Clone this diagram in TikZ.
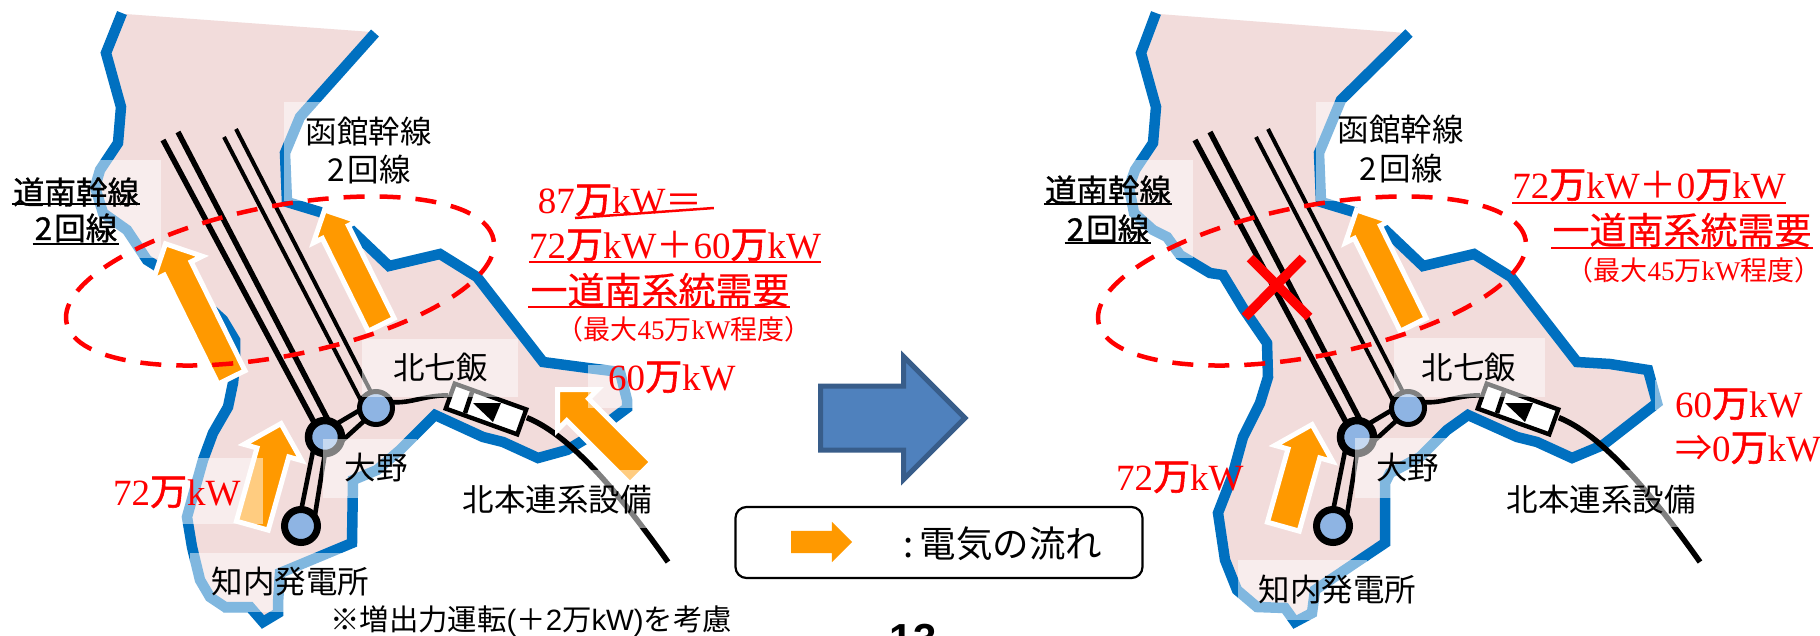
\documentclass[tikz,border=0pt]{standalone}
\usepackage{fontspec}
\usetikzlibrary{shapes.geometric,shapes.arrows}
\setmainfont{Liberation Serif}
\setsansfont{Liberation Sans}
\newfontfamily\jp{Noto Sans CJK JP}
\newfontfamily\jpm[FakeBold=1]{Noto Sans CJK JP}
\newfontfamily\jpr[FakeBold=0.5]{Noto Sans CJK JP}
\newfontfamily\jpk[FakeBold=1.6]{Noto Sans CJK JP}
\newcommand\szz[1]{\fontsize{#1}{#1}\selectfont}
\newcommand\Man{{\jpk 万}}
\definecolor{landpink}{HTML}{F2DCDB}
\definecolor{coast}{HTML}{0070C0}
\definecolor{flow}{HTML}{FF9900}
\definecolor{subfill}{HTML}{8EB4E3}
\definecolor{bigfill}{HTML}{4F81BD}
\definecolor{bigline}{HTML}{385D8A}
\tikzset{
  land/.style={fill=landpink,draw=none},
  shore/.style={draw=coast,line width=10.5pt,line join=miter,miter limit=4},
  veil/.style={fill=white,opacity=0.5},
  heavy/.style={draw=black,line width=5.5pt},
  light/.style={draw=black,line width=4pt},
  tie/.style={draw=black,line width=4.6pt},
  sub/.style={circle,draw=black,fill=subfill,minimum size=33pt,inner sep=0pt,line width=7pt,outer sep=0pt},
  flowarrow/.style={single arrow,anchor=tip,fill=flow,draw=white,line width=5pt,outer sep=0pt,inner xsep=0pt,miter limit=10},
  seam/.style={draw=red,line width=4.5pt,dash pattern=on 21pt off 15pt,ellipse,minimum width=435pt,minimum height=150pt,rotate=11,inner sep=0pt},
  conv/.style={rectangle,draw=black,fill=white,line width=4.4pt,rotate=-19.8,minimum width=76pt,minimum height=26.5pt,inner sep=0pt},
  blk/.style={inner sep=0pt,text=black,font=\jp\szz{31.5}},
  blkb/.style={inner sep=0pt,text=black,font=\jpm\szz{31.5}},
  rd/.style={inner sep=0pt,text=red,font=\szz{37}},
  rds/.style={inner sep=0pt,text=red,font=\szz{27}},
  ulb/.style={draw=black,line width=2.2pt},
  ulr/.style={draw=red,line width=2.5pt},
  ulrt/.style={draw=red,line width=1.6pt},
}
\newcommand\network[1]{%
  \node[sub,line width=7.5pt] (#1ono) at (325,437) {};
  \node[sub,line width=5pt] (#1kita) at (376,408) {};
  \node[sub] (#1shiri) at (301,526) {};
  \coordinate (#1da) at (163,140);
  \coordinate (#1db) at (178,132);
  \coordinate (#1ha) at (224,137);
  \coordinate (#1hb) at (236,129);
  \draw[heavy] (#1da) -- ([shift={(-9.5,-12)}]#1ono.center);
  \draw[heavy] (#1db) -- ([shift={(3,-17)}]#1ono.center);
  \draw[light] (#1ha) -- ([shift={(-15.4,-8)}]#1kita.center);
  \draw[light] (#1hb) -- ([shift={(-4.5,-15)}]#1kita.center);
  \draw[tie] ([shift={(-12,14)}]#1ono.center) -- ([shift={(0,-15)}]#1shiri.center);
  \draw[tie] ([shift={(0,16)}]#1ono.center) -- ([shift={(14,-11)}]#1shiri.center);
  \draw[tie] ([shift={(13,-14)}]#1ono.center) -- ([shift={(-16,2)}]#1kita.center);
  \draw[tie] ([shift={(17,4)}]#1ono.center) -- ([shift={(-12,13)}]#1kita.center);
  \node[conv] (#1conv) at (486,409) {};
  \draw[tie] ([shift={(15,-6)}]#1kita.center) .. controls (410,404) and (425,395) .. (#1conv.west);
  \coordinate (#1end) at (668,562);
  \draw[heavy] ([shift={(3,-5)}]#1conv.east) .. controls (565,433) and (610,480) .. (#1end);
  \draw[tie] (472,392) -- (465,413);
  \fill[black] (473,403) -- (501,403) -- (493,422) -- cycle;
}
\begin{document}
\begin{tikzpicture}[x=1pt,y=-1pt]
\useasboundingbox (0,0) rectangle (1820,635);
\clip (0,0) rectangle (1820,635);
\fill[white] (0,0) rectangle (1820,635);

%%% LEFT MAP
\fill[land] (125,14) -- (106,53) -- (121,107) -- (118,143) -- (100,170) -- (95,187) -- (103,213) -- (127,230) -- (147,260) -- (155,265) -- (223,320) -- (235,340) -- (235,363) -- (233,383) -- (228,407) -- (213,433) -- (203,460) -- (187,517) -- (192,547) -- (200,580) -- (210,597) -- (225,607) -- (250,607) -- (263,622) -- (278,613) -- (278,603) -- (280,573) -- (352,543) -- (353,480) -- (377,470) -- (400,450) -- (417,433) -- (435,415) -- (483,437) -- (503,442) -- (538,458) -- (567,450) -- (587,438) -- (627,408) -- (627,400) -- (620,372) -- (588,368) -- (543,362) -- (477,277) -- (440,254) -- (389,266) -- (348,227) -- (320,212) -- (287,202) -- (285,153) -- (300,117) -- (372,32) -- cycle;
\draw[shore] (122,13) -- (106,53) -- (121,107) -- (118,143) -- (100,170) -- (95,187) -- (103,213) -- (127,230) -- (147,260) -- (155,265) -- (190,290) -- (223,320) -- (235,340) -- (235,363) -- (233,383) -- (228,407) -- (213,433) -- (203,460) -- (187,517) -- (192,547) -- (200,580) -- (210,597) -- (225,607) -- (250,607) -- (263,622) -- (278,613) -- (278,603) -- (280,573) -- (352,543) -- (353,480) -- (377,470) -- (400,450) -- (417,433) -- (435,415) -- (483,437) -- (503,442) -- (538,458) -- (567,450) -- (587,438) -- (627,408) -- (627,400) -- (620,372) -- (588,368) -- (543,362) -- (477,277) -- (440,254) -- (389,266) -- (348,227) -- (320,212) -- (287,202) -- (285,153) -- (300,117) -- (375,33);
\network{l}
\node[flowarrow,rotate=116.3,minimum height=149pt,inner ysep=12.5pt,single arrow head extend=12.5pt] (la1) at (165.5,243.8) {};
\node[flowarrow,rotate=116.3,minimum height=128pt,inner ysep=12pt,single arrow head extend=10pt] (la2) at (324.5,210) {};
\node[flowarrow,rotate=74.3,minimum height=106pt,inner ysep=14pt,single arrow head extend=13.5pt] (la3) at (281,423.6) {};
\node[flowarrow,rotate=135,minimum height=118pt,inner ysep=13pt,single arrow head extend=13pt] (la4) at (557.5,389.5) {};
% label veils
\fill[veil] (10,160) rectangle (161,258);
\fill[veil] (284,102) rectangle (440,201);
\fill[veil] (362,339) rectangle (518,397);
\fill[veil] (323,439) rectangle (417,498);
\fill[veil] (110,458) rectangle (263,524);
\fill[veil] (190,553) rectangle (360,612);
\fill[veil] (588,365) rectangle (740,408);
\fill[veil] (455,470) rectangle (650,528);
\node[seam] (lseam) at (280,281) {};

%%% RIGHT MAP
\fill[land] (1159,14) -- (1141,53) -- (1156,107) -- (1153,143) -- (1135,170) -- (1129,187) -- (1134,213) -- (1153,230) -- (1167,237) -- (1180,255) -- (1210,273) -- (1223,275) -- (1243,308) -- (1267,343) -- (1268,377) -- (1260,403) -- (1243,437) -- (1232,477) -- (1218,513) -- (1225,560) -- (1237,590) -- (1257,607) -- (1285,608) -- (1295,622) -- (1312,613) -- (1315,590) -- (1385,543) -- (1385,483) -- (1390,473) -- (1420,457) -- (1447,430) -- (1468,415) -- (1517,437) -- (1537,442) -- (1572,458) -- (1603,445) -- (1657,403) -- (1648,370) -- (1610,364) -- (1577,362) -- (1511,277) -- (1474,254) -- (1423,266) -- (1382,227) -- (1354,212) -- (1321,202) -- (1319,153) -- (1341,100) -- (1406,33) -- cycle;
\draw[shore] (1156,13) -- (1141,53) -- (1156,107) -- (1153,143) -- (1135,170) -- (1129,187) -- (1134,213) -- (1153,230) -- (1167,237) -- (1180,255) -- (1210,273) -- (1223,275) -- (1243,308) -- (1267,343) -- (1268,377) -- (1260,403) -- (1243,437) -- (1232,477) -- (1218,513) -- (1225,560) -- (1237,590) -- (1257,607) -- (1285,608) -- (1295,622) -- (1312,613) -- (1315,590) -- (1385,543) -- (1385,483) -- (1390,473) -- (1420,457) -- (1447,430) -- (1468,415) -- (1517,437) -- (1537,442) -- (1572,458) -- (1603,445) -- (1657,403) -- (1648,370) -- (1610,364) -- (1577,362) -- (1511,277) -- (1474,254) -- (1423,266) -- (1382,227) -- (1354,212) -- (1321,202) -- (1319,153) -- (1341,100) -- (1409,33);
\begin{scope}[shift={(1032,0)}]
\network{r}
\end{scope}
\node[flowarrow,rotate=116.3,minimum height=128pt,inner ysep=12pt,single arrow head extend=10pt] (ra2) at (1356.5,210) {};
\node[flowarrow,rotate=74.3,minimum height=106pt,inner ysep=14pt,single arrow head extend=13.5pt] (ra3) at (1312,424.6) {};
\fill[veil] (1040,160) rectangle (1193,258);
\fill[veil] (1316,102) rectangle (1470,201);
\fill[veil] (1394,338) rectangle (1545,397);
\fill[veil] (1355,438) rectangle (1448,498);
\fill[veil] (1238,560) rectangle (1367,620);
\fill[veil] (1655,380) rectangle (1810,410);
\fill[veil] (1500,470) rectangle (1700,527);
\node[seam] (rseam) at (1312,281) {};
\draw[red,line width=9.5pt] (1250,258) -- (1309,317);
\draw[red,line width=9.5pt] (1303,258) -- (1245,317);

%%% CENTRE
\node[single arrow,anchor=tip,fill=bigfill,draw=bigline,line width=5pt,outer sep=0pt,inner xsep=0pt,inner ysep=29.5pt,miter limit=10,minimum height=144.5pt,single arrow head extend=29.5pt] (big) at (965,418) {};
\node[draw=black,line width=2.2pt,rounded corners=11pt,fill=white,minimum width=407pt,minimum height=71pt,inner sep=0pt] (legend) at (939,542.5) {};
\node[single arrow,anchor=tip,fill=flow,draw=none,outer sep=0pt,inner xsep=0pt,inner ysep=11pt,minimum height=61pt,single arrow head extend=9pt] (legarrow) at (852,542) {};
\node[inner sep=0pt,font=\jp\szz{36.5},anchor=base west] (legtext) at (903,557) {:};
\node[inner sep=0pt,font=\jp\szz{36.5},anchor=center] (legtext2) at (1011,544) {電気の流れ};

%%% LEFT TEXT
\node[blk] (lhako1) at (368.5,132) {函館幹線};
\node[blk] (lhako2) at (369,170) {2\hspace{3pt}回線};
\node[blkb] (ldou1) at (76,192) {道南幹線};
\node[blkb] (ldou2) at (76,228) {2\hspace{2pt}回線};
\draw[ulb] ([shift={(-1,12)}]ldou1.base west |- 0,192) -- ([shift={(1,12)}]ldou1.base east |- 0,192);
\draw[ulb] ([shift={(-2,16)}]ldou2.base west |- 0,228) -- ([shift={(2,16)}]ldou2.base east |- 0,228);
\node[blk] (lkita) at (440.5,368) {北七飯};
\node[blk] (lono) at (376,468) {大野};
\node[blk] (lshiri) at (290.5,582) {知内発電所};
\node[blk] (lhon) at (557,500) {北本連系設備};
\node[rd,anchor=base east] (lr1a) at (575,213) {87};
\node[rd,anchor=base west] (lr1b) at (575,213) {\Man kW{\jp ＝}};
\draw[ulr] ([yshift=-5pt]lr1b.base west) -- ([shift={(11,-5)}]lr1b.base east |- lr1b.base west);
\node[rd,anchor=base] (lr2) at (675,258) {72\Man kW{\jp ＋}60\Man kW};
\draw[ulr] ([yshift=-4pt]lr2.base west) -- ([yshift=-4pt]lr2.base east);
\node[rd,anchor=center,font=\jpr\szz{37}] (lr3) at (660,290) {一道南系統需要};
\draw[ulrt] (528,307) -- (790,307);
\node[rds] (lr4) at (684,329) {{\jp （最大}45{\jp 万}kW{\jp 程度）}};
\node[rd,anchor=base west] (lr5) at (608,390) {60\Man kW};
\node[rd,anchor=base west] (lr6) at (113,505) {72\Man kW};
\node[inner sep=0pt,anchor=west,font=\jp\szz{29.4}] (note) at (330,621) {※増出力運転\sffamily(\jp ＋\sffamily 2\jp 万\sffamily kW)\jp を考慮};
\node[inner sep=0pt,anchor=base,font=\sffamily\bfseries\szz{42}] (page) at (913,653) {13};

%%% RIGHT TEXT
\node[blk] (rhako1) at (1400.5,130) {函館幹線};
\node[blk] (rhako2) at (1401,169) {2\hspace{3pt}回線};
\node[blkb] (rdou1) at (1108,190) {道南幹線};
\node[blkb] (rdou2) at (1108,229) {2\hspace{2pt}回線};
\draw[ulb] ([shift={(-1,14)}]rdou1.base west |- 0,190) -- ([shift={(1,14)}]rdou1.base east |- 0,190);
\draw[ulb] ([shift={(-2,14)}]rdou2.base west |- 0,229) -- ([shift={(2,14)}]rdou2.base east |- 0,229);
\node[blk] (rkita) at (1469,368) {北七飯};
\node[blk] (rono) at (1407.5,468) {大野};
\node[blk] (rshiri) at (1337.5,590) {知内発電所};
\node[blk] (rhon) at (1601,500) {北本連系設備};
\node[rd,anchor=base] (rr1) at (1649,198) {72\Man kW{\jp ＋}0\Man kW};
\draw[ulr] ([yshift=-5pt]rr1.base west) -- ([yshift=-5pt]rr1.base east);
\node[rd,anchor=center,font=\jpr\szz{37}] (rr2) at (1682,230) {一道南系統需要};
\draw[ulr] (1551,248) -- (1813,248);
\node[rds] (rr3) at (1694,270) {{\jp （最大}45{\jp 万}kW{\jp 程度）}};
\node[rd,anchor=base west] (rr4) at (1675,417) {60\Man kW};
\node[rd,anchor=base west] (rr5) at (1675,461) {{\jp ⇒}0\Man kW};
\node[rd,anchor=base west] (rr6) at (1116,490) {72\Man kW};
\end{tikzpicture}
\end{document}
